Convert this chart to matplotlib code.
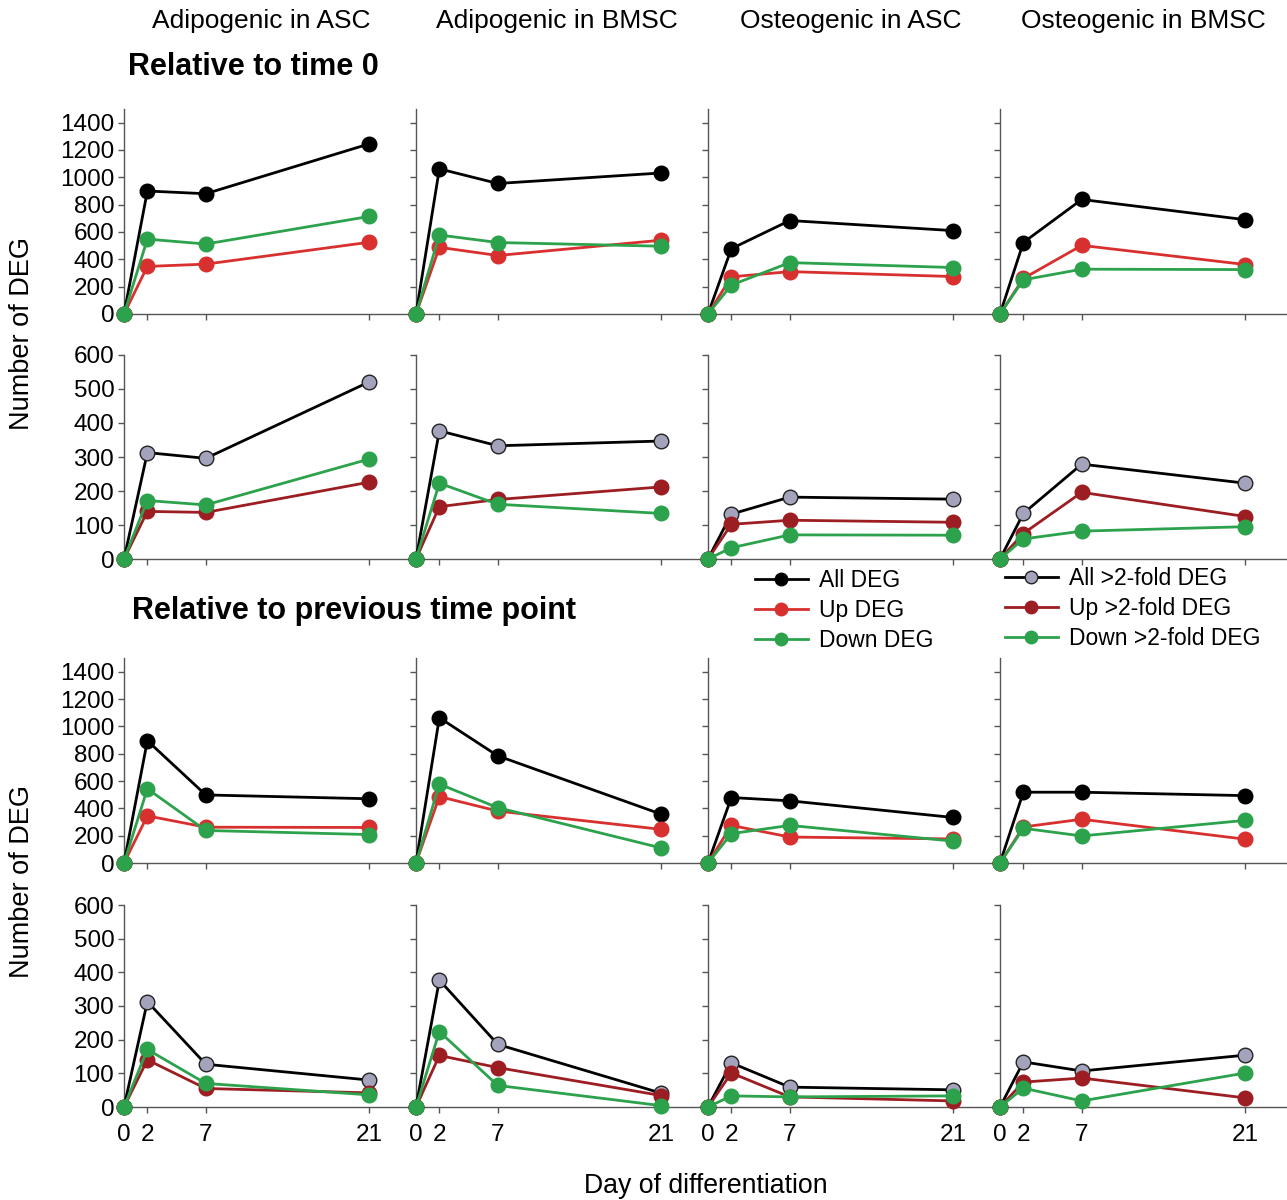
import matplotlib
matplotlib.use("Agg")
from matplotlib import pyplot as plt
from matplotlib.lines import Line2D

plt.rcParams['font.family'] = ['Liberation Sans', 'DejaVu Sans']

days = [0, 2, 7, 21]
columns = ["Adipogenic in ASC", "Adipogenic in BMSC", "Osteogenic in ASC", "Osteogenic in BMSC"]

# relative to time 0, all DEG
t0_all = [[0, 900, 880, 1245], [0, 1062, 955, 1032], [0, 478, 684, 610], [0, 523, 838, 690]]
t0_up = [[0, 348, 365, 525], [0, 488, 428, 540], [0, 272, 310, 274], [0, 260, 502, 362]]
t0_down = [[0, 548, 512, 714], [0, 578, 523, 496], [0, 212, 376, 340], [0, 250, 328, 325]]

# relative to time 0, >2-fold DEG
t0_all2 = [[0, 313, 296, 521], [0, 377, 333, 347], [0, 132, 182, 176], [0, 134, 279, 223]]
t0_up2 = [[0, 140, 137, 226], [0, 154, 175, 212], [0, 102, 114, 108], [0, 75, 196, 125]]
t0_down2 = [[0, 172, 159, 294], [0, 223, 161, 134], [0, 33, 71, 70], [0, 59, 82, 95]]

# relative to previous time point, all DEG
prev_all = [[0, 895, 498, 470], [0, 1063, 784, 357], [0, 479, 455, 333], [0, 518, 518, 493]]
prev_up = [[0, 345, 262, 260], [0, 486, 380, 246], [0, 275, 190, 176], [0, 264, 320, 174]]
prev_down = [[0, 543, 238, 208], [0, 577, 405, 110], [0, 215, 275, 160], [0, 254, 198, 312]]

# relative to previous time point, >2-fold DEG
prev_all2 = [[0, 313, 127, 80], [0, 377, 186, 41], [0, 131, 59, 51], [0, 134, 107, 154]]
prev_up2 = [[0, 140, 55, 42], [0, 153, 117, 34], [0, 101, 30, 18], [0, 74, 86, 27]]
prev_down2 = [[0, 171, 70, 36], [0, 224, 64, 4], [0, 33, 30, 33], [0, 56, 18, 101]]

black = "#000000"
red = "#d8302f"
green = "#2ca24c"
darkred = "#9c1d22"
grey = "#a3a3bb"

W, H = 1287, 1200
fig = plt.figure(figsize=(W / 100, H / 100), dpi=100)

col_left = [124, 416, 708, 1000]
col_w = 292
col_title_x = [261, 557, 851, 1143]
rows = [(314, 109), (559, 355), (863, 658), (1107, 905)]

row_data = [
    (t0_all, t0_up, t0_down, False),
    (t0_all2, t0_up2, t0_down2, True),
    (prev_all, prev_up, prev_down, False),
    (prev_all2, prev_up2, prev_down2, True),
]

for r, (y0, ytop) in enumerate(rows):
    all_d, up_d, down_d, fold = row_data[r]
    for c in range(4):
        ax = fig.add_axes([col_left[c] / W, (H - y0) / H, col_w / W, (y0 - ytop) / H])
        if fold:
            ax.plot(days, all_d[c], color=black, lw=2, marker="o", ms=10.5,
                    mfc=grey, mec="#222222", mew=1, clip_on=False, zorder=3)
            ax.plot(days, up_d[c], color=darkred, lw=2, marker="o", ms=10.5,
                    mfc=darkred, mec=darkred, clip_on=False, zorder=4)
            ax.plot(days, down_d[c], color=green, lw=2, marker="o", ms=10.5,
                    mfc=green, mec=green, clip_on=False, zorder=5)
            ax.set_ylim(0, 600)
            ax.set_yticks(range(0, 601, 100))
        else:
            ax.plot(days, all_d[c], color=black, lw=2, marker="o", ms=10.5,
                    clip_on=False, zorder=3)
            ax.plot(days, up_d[c], color=red, lw=2, marker="o", ms=10.5,
                    clip_on=False, zorder=4)
            ax.plot(days, down_d[c], color=green, lw=2, marker="o", ms=10.5,
                    clip_on=False, zorder=5)
            ax.set_ylim(0, 1500)
            ax.set_yticks(range(0, 1401, 200))
        ax.set_xlim(0, 25)
        ax.set_xticks(days)
        for s in ["top", "right"]:
            ax.spines[s].set_visible(False)
        for s in ["left", "bottom"]:
            ax.spines[s].set_color("#555555")
            ax.spines[s].set_linewidth(1)
        ax.tick_params(direction="out", length=4, width=1, color="#555555",
                       labelsize=17.5, pad=3)
        if c > 0:
            ax.set_yticklabels([])
        if r < 3:
            ax.set_xticklabels([])
        else:
            ax.tick_params(axis="x", pad=8)
        ax.patch.set_alpha(0)

for c in range(4):
    fig.text(col_title_x[c] / W, 1 - 21 / H, columns[c], fontsize=19,
             ha="center", va="center")

fig.text(128 / W, 1 - 67 / H, "Relative to time 0", fontsize=22, fontweight="bold",
         va="center", ha="left")
fig.text(132 / W, 1 - 611 / H, "Relative to previous time point", fontsize=22,
         fontweight="bold", va="center", ha="left")
fig.text(22 / W, 1 - 333 / H, "Number of DEG", fontsize=19.5, rotation=90,
         va="center", ha="center")
fig.text(22 / W, 1 - 882 / H, "Number of DEG", fontsize=19.5, rotation=90,
         va="center", ha="center")
fig.text(706 / W, 1 - 1186 / H, "Day of differentiation", fontsize=19.2,
         va="center", ha="center")

h1 = [Line2D([], [], color=black, lw=2, marker="o", ms=9),
      Line2D([], [], color=red, lw=2, marker="o", ms=9),
      Line2D([], [], color=green, lw=2, marker="o", ms=9)]
h2 = [Line2D([], [], color=black, lw=2, marker="o", ms=9, mfc=grey, mec="#222222"),
      Line2D([], [], color=darkred, lw=2, marker="o", ms=9),
      Line2D([], [], color=green, lw=2, marker="o", ms=9)]
fig.legend(h1, ["All DEG", "Up DEG", "Down DEG"], loc="upper left",
           bbox_to_anchor=(755 / W, 1 - 569 / H), frameon=False, fontsize=16.5,
           handlelength=2.3, labelspacing=0.31, handletextpad=0.5,
           borderpad=0, borderaxespad=0)
fig.legend(h2, ["All >2-fold DEG", "Up >2-fold DEG", "Down >2-fold DEG"], loc="upper left",
           bbox_to_anchor=(1005 / W, 1 - 567 / H), frameon=False, fontsize=16.5,
           handlelength=2.3, labelspacing=0.31, handletextpad=0.5,
           borderpad=0, borderaxespad=0)

fig.savefig("out.png", dpi=100)
